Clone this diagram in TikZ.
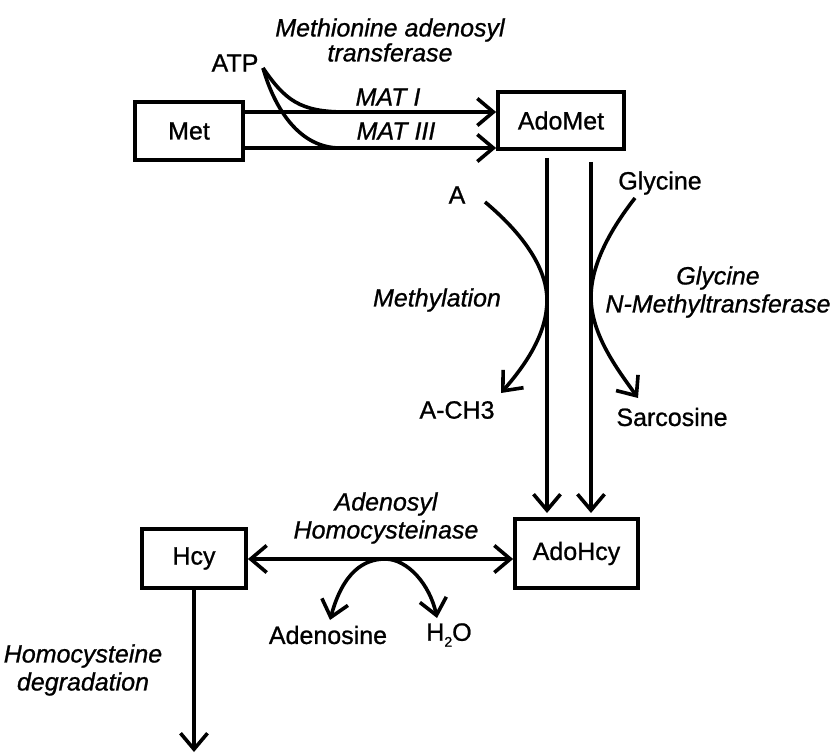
\documentclass[tikz,border=0pt]{standalone}
\usepackage{fontspec}
\setmainfont{Liberation Sans}[FakeBold=0.9]
\usetikzlibrary{arrows.meta,calc}
\begin{document}
\begin{tikzpicture}[x=1pt,y=-1pt, line width=3.6pt,
  font=\fontsize{25}{28}\selectfont,
  box/.style={draw, line width=3.8pt, inner sep=0pt},
  lbl/.style={inner sep=0pt, align=center},
  enz/.style={lbl, font=\fontsize{25}{28}\selectfont\itshape},
  arr/.style={-{Straight Barb[length=16pt,width=27pt]}},
  darr/.style={{Straight Barb[length=16pt,width=27pt]}-{Straight Barb[length=16pt,width=27pt]}},
]
\useasboundingbox (0,0) rectangle (838,754);

% boxes
\node[box, minimum width=108pt, minimum height=58pt] (met) at (189,131) {Met};
\node[box, minimum width=126pt, minimum height=57pt] (adomet) at (561,120.5) {AdoMet};
\node[box, minimum width=104pt, minimum height=59pt] (hcy) at (194,558.5) {Hcy};
\node[box, minimum width=123pt, minimum height=69pt] (adohcy) at (576.5,553.5) {AdoHcy};

% labels
\node[lbl] (atp) at (235,63) {ATP};
\node[enz] (mat) at (390,40) {Methionine adenosyl\\[-3pt]transferase};
\node[enz] (mat1) at (388,97) {MAT I};
\node[enz] (mat3) at (396,131) {MAT III};
\node[lbl] (a) at (457,195) {A};
\node[lbl] (ach3) at (457,410) {A-CH3};
\node[lbl] (gly) at (660,183) {Glycine};
\node[lbl] (sarc) at (672,417) {Sarcosine};
\node[enz] (methyl) at (437,300) {Methylation};
\node[enz] (gnmt) at (718,292) {Glycine\\N-Methyltransferase};
\node[enz] (ahcy) at (386,518) {Adenosyl\\Homocysteinase};
\node[lbl] (ado) at (328,635) {Adenosine};
\node[lbl] (water) at (449,635) {H\raisebox{-6pt}{\fontsize{14}{14}\selectfont 2}O};
\node[enz] (hdeg) at (83,670) {Homocysteine\\degradation};

% MAT arrows
\draw[arr] (met.east |- 0,112) -- (adomet.west |- 0,112);
\draw[arr] (met.east |- 0,148) -- (adomet.west |- 0,148);
\coordinate (atpend) at (263,68);
\draw (atpend) .. controls (285,100) and (300,112) .. (345,112);
\draw (atpend) .. controls (275,110) and (300,148) .. (340,148);

% vertical arrows AdoMet -> AdoHcy
\draw[arr] (547,158) -- (547,513);
\draw[arr] (591,162) -- (591,513);

% side reactions
\draw[arr] (485,202) .. controls (528,238) and (547,272) .. (547,300)
  .. controls (547,332) and (528,362) .. (501,393);
\draw[arr] (635,198) .. controls (610,230) and (591,265) .. (591,297)
  .. controls (591,335) and (618,370) .. (638,398);

% AdoHcy <-> Hcy
\draw[darr] (hcy.east |- 0,559) -- (adohcy.west |- 0,559);
\draw[darr] (330,620) .. controls (343,572) and (364,559) .. (385,559)
  .. controls (408,559) and (430,585) .. (437,618);

% degradation
\draw[arr] (hcy.south) -- (194,752);
\end{tikzpicture}
\end{document}
